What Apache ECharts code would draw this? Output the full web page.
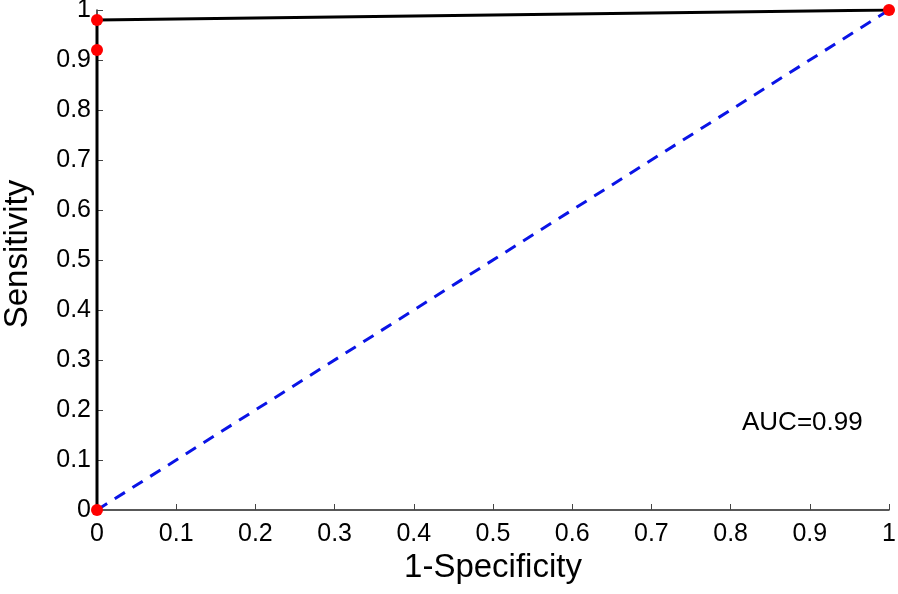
<!DOCTYPE html>
<html><head><meta charset="utf-8">
<script src="https://cdn.jsdelivr.net/npm/echarts@6/dist/echarts.min.js"></script>
<style>html,body{margin:0;padding:0;background:#fff}#c{width:898px;height:594px}</style>
</head><body><div id="c"></div>
<script>
const rocX = [0, 0, 0, 1];
const rocY = [0, 0.92, 0.98, 1];
const diagX = [0, 1];
const diagY = [0, 1];
const aucLabel = 'AUC=0.99';
const xName = '1-Specificity';
const yName = 'Sensitivity';

const chart = echarts.init(document.getElementById('c'));
const font = 'Liberation Sans, Arial, sans-serif';
const axisCommon = {
  type: 'value', min: 0, max: 1, interval: 0.1,
  nameLocation: 'middle',
  nameTextStyle: {fontFamily: font, fontSize: 33, color: '#000'},
  axisLine: {show: true, lineStyle: {color: '#222', width: 1.5}},
  axisTick: {show: true, inside: true, length: 6, lineStyle: {color: '#444'}},
  axisLabel: {fontFamily: font, fontSize: 25, color: '#000'},
  splitLine: {show: false}
};
chart.setOption({
  animation: false,
  grid: {left: 97, right: 9, top: 10, bottom: 84, containLabel: false, outerBoundsMode: 'none'},
  xAxis: Object.assign({}, axisCommon, {name: xName, nameGap: 39, axisLabel: Object.assign({}, axisCommon.axisLabel, {margin: 12})}),
  yAxis: Object.assign({}, axisCommon, {name: yName, nameGap: 63,
    nameTextStyle: Object.assign({}, axisCommon.nameTextStyle, {padding: [0, 0, 0, 12]}),
    axisLabel: Object.assign({}, axisCommon.axisLabel, {margin: 6})}),
  series: [
    {type: 'line', data: diagX.map((x, i) => [x, diagY[i]]), symbol: 'none',
     lineStyle: {color: '#0a14e6', width: 3, type: [12, 9]}, z: 2},
    {type: 'line', data: rocX.map((x, i) => [x, rocY[i]]), symbol: 'circle', symbolSize: 12,
     itemStyle: {color: '#ff0000'}, lineStyle: {color: '#000', width: 3}, z: 3}
  ],
  graphic: [{type: 'text', left: 742, top: 410,
    style: {text: aucLabel, font: '26px ' + font, fill: '#000'}}]
});
</script></body></html>
